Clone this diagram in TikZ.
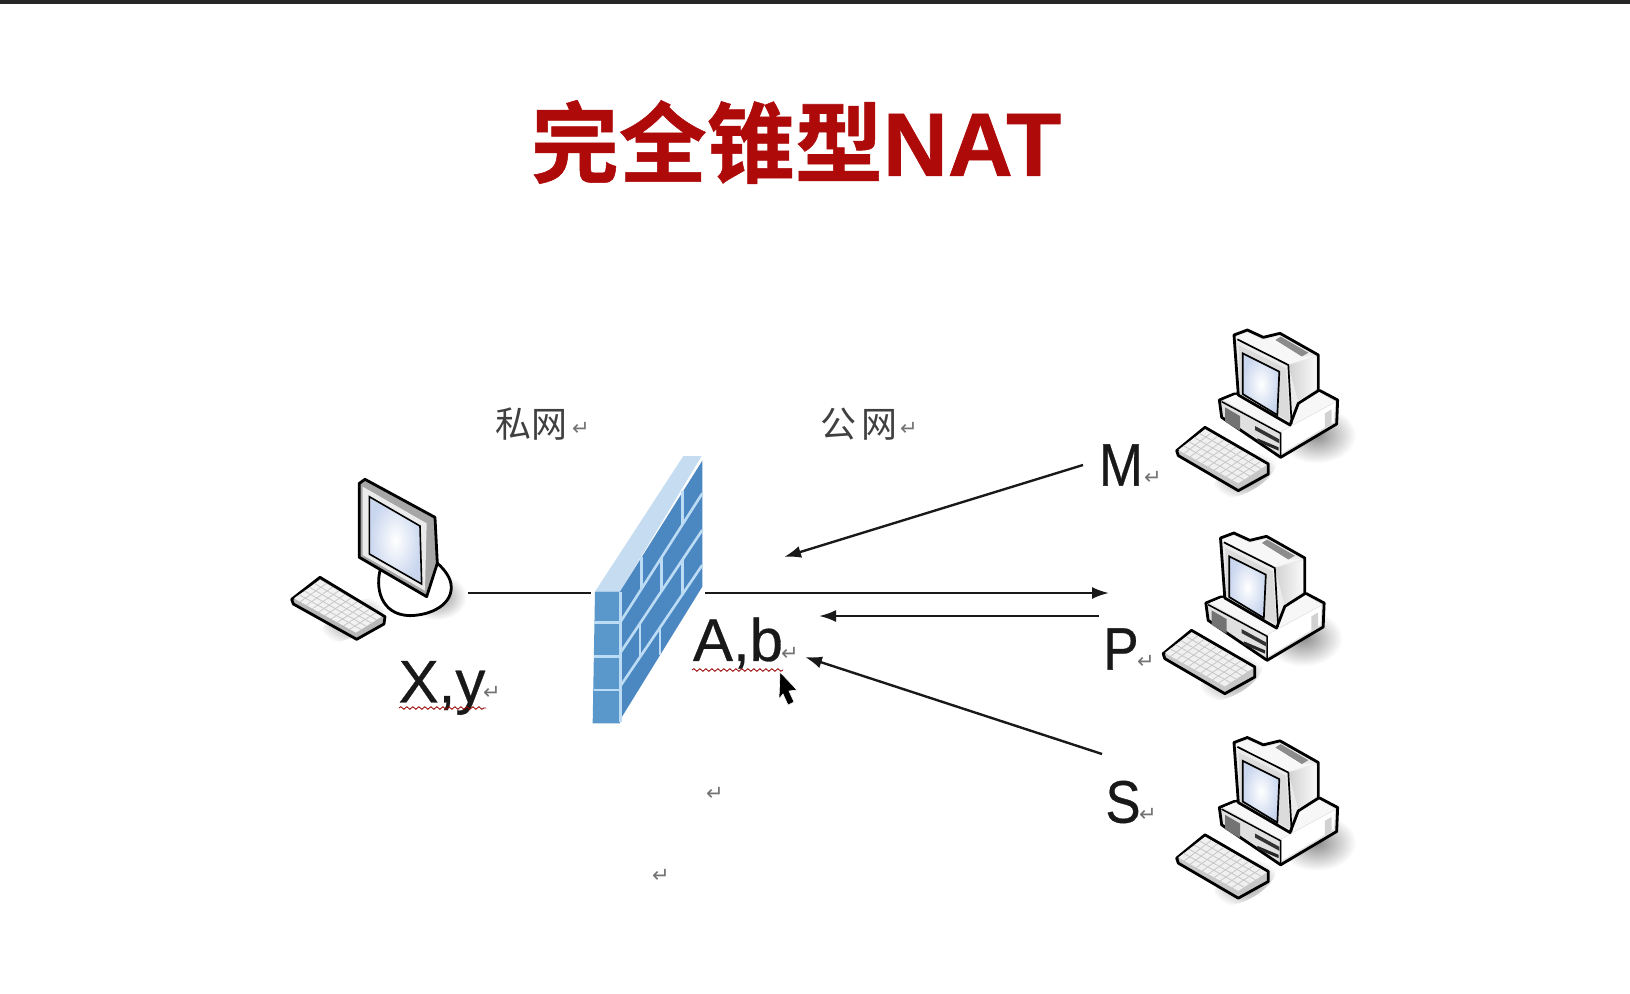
\documentclass[tikz,border=0pt]{standalone}
\usepackage{fontspec}
\setmainfont{Liberation Sans}
\newfontfamily\cjk{Noto Sans CJK SC}
\newfontfamily\cjkb[FakeBold=0.6]{Noto Sans CJK SC Bold}
\newfontfamily\titlelat[FakeBold=0.8]{Liberation Sans Bold}
\newfontfamily\lab[FakeBold=0.5]{Liberation Sans}
\newfontfamily\djv{DejaVu Sans}
\usetikzlibrary{calc,decorations.pathmorphing,arrows.meta}
\definecolor{titlered}{HTML}{AE0A0A}
\definecolor{wallfront}{HTML}{5A98CC}
\definecolor{wallside}{HTML}{4B87C0}
\definecolor{walltop}{HTML}{C6DDF1}
\definecolor{mortar}{HTML}{BCDCF6}
\definecolor{screenblue}{HTML}{C9D6EE}
\tikzset{
  biglabel/.style={inner sep=0pt,text=black!90,font=\lab\fontsize{60}{60}\selectfont},
  cjklabel/.style={inner sep=0pt,text=black!75,font=\cjk\fontsize{36}{36}\selectfont},
  retmark/.style={inner sep=0pt,text=black!55,font=\djv\fontsize{21}{21}\selectfont},
  conn/.style={line width=2.4pt,black!90},
  arrowconn/.style={conn,-{Latex[length=17pt,width=12pt]}},
  squiggle/.style={draw=red!60!black,line width=.8pt,decorate,decoration={snake,amplitude=1.3pt,segment length=6pt}},
  outl/.style={draw=black,line width=2.8pt,line join=round},
  softshadow/.style={inner color=black!45,outer color=white,draw=none},
  mort/.style={mortar,line width=2.6pt},
  keyboard/.pic={
    \begin{scope}[scale=.3333]
      \shade[softshadow] (255,465) ellipse [x radius=105,y radius=50,rotate=30];
      \filldraw[outl,fill=black!22] (50,392)--(135,322)--(325,432)--(325,462)--(235,512)--(55,407)--cycle;
      \fill[black!6] (55,390)--(135,328)--(320,435)--(235,490)--cycle;
      \foreach \t in {.2,.4,.6,.8}
        \draw[black!22,line width=.8pt] ($(55,390)!\t!(135,328)$)--($(235,490)!\t!(320,435)$);
      \foreach \t in {.1,.2,.3,.4,.5,.6,.7,.8,.9}
        \draw[black!22,line width=.8pt] ($(55,390)!\t!(235,490)$)--($(135,328)!\t!(320,435)$);
    \end{scope}
  },
  deskpc/.pic={
    \begin{scope}[scale=.3333]
      \shade[softshadow] (470,345) ellipse [x radius=118,y radius=85];
      \path (0,0) pic {keyboard};
      % base
      \filldraw[outl,fill=black!12] (178,240)--(222,222)--(480,212)--(533,240)--(530,312)--(362,412)--(185,292)--cycle;
      \fill[black!3] (190,240)--(360,335)--(525,245)--(475,215)--(225,225)--cycle;
      \fill[white] (365,335)--(525,248)--(522,305)--(365,400)--cycle;
      \fill[black!18] (495,280)--(515,268)--(515,312)--(495,325)--cycle;
      \draw[black,line width=1.5pt] (185,245)--(362,340)--(362,410);
      \fill[black!55] (195,262)--(240,288)--(240,332)--(195,305)--cycle;
      \fill[black!80] (285,318)--(358,358)--(358,370)--(285,330)--cycle;
      \fill[black!85] (292,355)--(356,382)--(356,392)--(292,365)--cycle;
      % monitor
      \filldraw[outl,fill=black!8] (222,45)--(262,30)--(310,52)--(360,40)--(475,105)--(475,212)--(415,250)--(390,315)--(235,225)--cycle;
      \shade[left color=black!18,right color=black!2] (385,135)--(470,112)--(470,205)--(415,245)--cycle;
      \fill[black!45] (345,60)--(362,50)--(445,98)--(425,110)--cycle;
      \fill[black!14] (236,75)--(378,145)--(390,305)--(240,222)--cycle;
      \fill[black!3] (228,50)--(262,38)--(310,60)--(360,48)--(345,60)--(425,110)--(468,108)--(385,132)--(232,58)--cycle;
      \draw[black,line width=1.7pt] (232,58)--(385,135)--(395,312);
      \shade[draw=black,line width=1.7pt,inner color=white,outer color=screenblue] (248,100)--(358,155)--(352,285)--(248,222)--cycle;
    \end{scope}
  }
}
\begin{document}
\begin{tikzpicture}[x=1pt,y=-1pt]
\useasboundingbox (0,0) rectangle (1630,993);
\fill[white] (0,0) rectangle (1630,993);
\fill[black!85] (0,0) rectangle (1630,4);

% title
\node[inner sep=0pt,text=titlered] (title) at (796,142)
  {\cjkb\fontsize{88}{88}\selectfont 完全锥型\titlelat\fontsize{90}{90}\selectfont NAT};

% zone labels
\node[cjklabel] (private) at (531,424) {私网};
\node[cjklabel] (public) at (859,424) {公\,网};
\node[retmark] (rp1) at (581,429) {↵};
\node[retmark] (rp2) at (909,429) {↵};

% client PC
\begin{scope}[shift={(270,440)},scale=.3333]
  \shade[softshadow] (500,470) ellipse [x radius=90,y radius=70];
  \shade[softshadow] (250,540) ellipse [x radius=110,y radius=45,rotate=30];
  \filldraw[outl,fill=white] (332,385) .. controls (315,440) and (330,525) .. (420,527)
     .. controls (500,525) and (560,480) .. (540,420) .. controls (530,395) and (510,375) .. (490,360) -- cycle;
  \filldraw[outl,fill=black!28] (65,478)--(150,412)--(345,530)--(342,552)--(260,598)--(70,492)--cycle;
  \fill[black!5] (72,475)--(150,420)--(335,530)--(258,578)--cycle;
  \foreach \t in {.2,.4,.6,.8}
    \draw[black!22,line width=.8pt] ($(72,475)!\t!(150,420)$)--($(258,578)!\t!(335,530)$);
  \foreach \t in {.1,.2,.3,.4,.5,.6,.7,.8,.9}
    \draw[black!22,line width=.8pt] ($(72,475)!\t!(258,578)$)--($(150,420)!\t!(335,530)$);
  \filldraw[outl,fill=black!35] (268,130)--(285,118)--(495,232)--(502,370)--(470,470)--(268,352)--cycle;
  \fill[black!8] (278,140)--(470,250)--(465,452)--(278,345)--cycle;
  \shade[draw=black,line width=1.6pt,inner color=white,outer color=screenblue] (298,170)--(450,258)--(455,432)--(298,342)--cycle;
\end{scope}
\coordinate (pcport) at (468,593);
\node[biglabel] (xy) at (442,688) {X,y};
\node[retmark] (rxy) at (492,693) {↵};
\draw[squiggle] (399,708)--(486,708);

% firewall
\begin{scope}[shift={(570,440)},scale=.3333]
  \fill[walltop] (75,455)--(340,48)--(395,48)--(150,455)--cycle;
  \fill[wallside] (150,455)--(397,62)--(397,440)--(150,840)--cycle;
  \fill[wallfront] (75,455)--(150,455)--(150,850)--(68,850)--cycle;
  \foreach \a/\b in {548/160,640/270,740/375}
    \draw[mort] (150,\a)--(397,\b);
  \foreach \a in {548,650,750}
    \draw[mort] (72,\a)--(150,\a);
  \draw[mort] (152,455)--(152,845);
  \draw[mort] (215,351)--(215,446);
  \draw[mort] (338,154)--(338,253);
  \draw[mort] (275,350)--(275,452);
  \draw[mort] (338,358)--(338,462);
  \draw[mort] (210,550)--(210,651);
  \draw[mort] (270,562)--(270,645);
\end{scope}
\coordinate (wallleft) at (591,593);
\coordinate (wallright) at (705,593);
\node[biglabel] (ab) at (738,643) {A,b};
\node[retmark] (rab) at (790,654) {↵};
\draw[squiggle] (692,670)--(783,670);
% mouse cursor
\filldraw[fill=black,draw=white,line width=.6pt] (780,672)--(797,690)--(789,691)--(794,702)--(788,705)--(783,694)--(779,699)--cycle;

% remote hosts
\pic at (1160,320) {deskpc};
\pic at (1146.5,523) {deskpc};
\pic at (1160,727.5) {deskpc};

\node[biglabel,xscale=.88] (M) at (1121,465) {M};
\node[retmark] (rm) at (1153,478) {↵};
\node[biglabel,xscale=.88] (P) at (1121,649) {P};
\node[retmark] (rpp) at (1146,662) {↵};
\node[biglabel,xscale=.88] (S) at (1123,802) {S};
\node[retmark] (rs) at (1148,815) {↵};

% empty paragraphs
\node[retmark] (r1) at (715,794) {↵};
\node[retmark] (r2) at (661,876) {↵};

% connectors
\coordinate (mtail) at (1083,465);
\coordinate (mhead) at (784,557);
\coordinate (ptail) at (1109,593);
\coordinate (rtail) at (1099,616);
\coordinate (rhead) at (819,616);
\coordinate (stail) at (1102,754);
\coordinate (shead) at (805,657);
\draw[conn] (pcport)--(wallleft);
\draw[arrowconn] (wallright)--(ptail);
\draw[arrowconn] (rtail)--(rhead);
\draw[arrowconn] (mtail)--(mhead);
\draw[arrowconn] (stail)--(shead);
\end{tikzpicture}
\end{document}
